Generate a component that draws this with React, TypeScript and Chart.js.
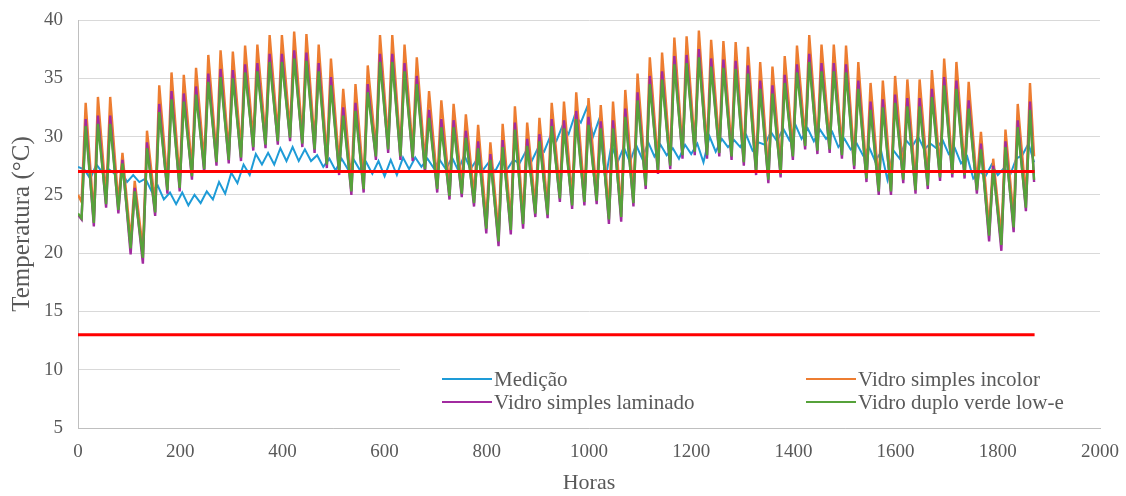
import { useEffect, useRef } from 'react';
import { Chart, registerables } from 'chart.js';

Chart.register(...registerables);

// ---- Data ----
const DAY_HOURS = 24;
const LAST_HOUR = 1871;
const SIM_LOW_HOUR = 7;   // hour of the day of the daily minimum (simulations)
const SIM_HIGH_HOUR = 15; // hour of the day of the daily maximum (simulations)
const MEAS_LOW_HOUR = 0;  // measured series daily minimum
const MEAS_HIGH_HOUR = 12; // measured series daily maximum

const xTicks = [0, 200, 400, 600, 800, 1000, 1200, 1400, 1600, 1800, 2000];
const yTicks = [5, 10, 15, 20, 25, 30, 35, 40];
const limitLines = [27, 13];

const labels = ['Medição', 'Vidro simples incolor', 'Vidro simples laminado', 'Vidro duplo verde low-e'];

// Medição (measured)
const medLow = [27.4, 26.4, 26.9, 26.8, 26.1, 26.1, 25.3, 24.6, 24.2, 24.1,
  24.3, 24.6, 25.1, 26.0, 26.7, 27.6, 27.6, 27.9, 27.9, 27.9,
  27.4, 27.1, 27.2, 27.1, 26.8, 26.6, 26.7, 27.2, 27.4, 27.3,
  27.2, 27.1, 27.2, 27.1, 27.0, 27.2, 27.7, 27.9, 28.7, 29.6,
  30.2, 31.2, 30.0, 26.3, 27.8, 27.8, 28.1, 28.3, 28.4, 28.1,
  28.5, 27.8, 28.7, 29.1, 29.1, 28.8, 29.3, 29.6, 29.7, 29.8,
  29.6, 29.8, 29.1, 28.9, 28.4, 27.9, 26.3, 28.1, 29.1, 28.9,
  29.0, 28.5, 27.7, 26.4, 26.6, 26.7, 26.7, 28.4];
const medHigh = [27.2, 27.6, 27.2, 27.1, 26.7, 26.4, 25.8, 25.2, 25.2, 25.0,
  25.3, 26.1, 26.9, 27.6, 28.5, 28.6, 29.0, 29.1, 28.9, 28.4,
  28.1, 28.1, 28.0, 27.8, 27.9, 28.0, 28.2, 28.2, 28.1, 28.0,
  28.2, 28.4, 28.0, 27.8, 28.0, 28.0, 28.7, 29.0, 30.0, 30.9,
  31.8, 32.5, 31.5, 29.3, 29.1, 29.3, 29.5, 29.3, 29.0, 29.3,
  29.4, 30.0, 29.8, 29.7, 30.1, 29.5, 30.4, 30.7, 31.0, 30.7,
  30.6, 30.4, 29.8, 29.4, 29.1, 28.7, 28.8, 29.7, 30.0, 29.4,
  29.7, 29.0, 28.3, 27.0, 27.6, 27.3, 28.1, 29.4];
const medEnd = 27.8;

// Vidro simples incolor
const incolorStart = 25.0;
const incolorLow = [24.4, 23.2, 24.8, 24.3, 21.1, 20.3, 24.1, 26.0, 26.2, 27.2,
  27.8, 28.4, 28.6, 28.8, 29.7, 29.9, 30.2, 30.5, 30.0, 29.5,
  28.2, 27.6, 25.9, 26.1, 28.9, 29.5, 28.9, 28.8, 27.8, 26.1,
  25.5, 25.7, 24.9, 22.8, 21.7, 22.7, 23.1, 24.0, 23.9, 25.3,
  24.7, 25.0, 25.1, 23.5, 23.7, 24.9, 26.4, 27.7, 28.1, 29.0,
  29.3, 29.0, 29.2, 28.9, 28.4, 27.6, 26.9, 27.4, 28.9, 29.8,
  29.4, 29.5, 29.0, 28.1, 27.0, 25.9, 25.9, 26.9, 26.0, 26.4,
  27.1, 27.4, 27.3, 26.0, 22.2, 21.4, 23.0, 24.8];
const incolorHigh = [32.9, 33.4, 33.4, 28.6, 26.2, 30.5, 34.4, 35.5, 35.3, 35.9,
  37.0, 37.4, 37.3, 37.8, 37.9, 38.7, 38.7, 39.0, 38.8, 37.9,
  36.7, 34.1, 34.5, 36.1, 38.7, 38.7, 37.9, 36.8, 33.9, 33.1,
  32.8, 31.9, 31.0, 29.5, 31.1, 32.6, 31.2, 31.6, 32.9, 33.0,
  33.8, 33.3, 32.7, 33.0, 34.0, 35.4, 36.8, 37.2, 38.5, 38.6,
  39.1, 38.3, 38.2, 38.1, 37.7, 36.4, 36.0, 36.9, 37.8, 38.7,
  37.9, 37.9, 37.8, 36.4, 34.6, 34.8, 35.2, 34.9, 34.9, 35.7,
  36.7, 36.4, 34.7, 30.4, 28.1, 30.6, 32.8, 34.6];
const incolorEnd = 28.3;

// Vidro simples laminado
const laminadoStart = 23.3;
const laminadoLow = [22.9, 22.3, 23.9, 23.4, 19.9, 19.1, 23.2, 25.1, 25.3, 26.3,
  26.9, 27.5, 27.7, 27.9, 28.8, 29.0, 29.3, 29.6, 29.1, 28.6,
  27.3, 26.7, 25.0, 25.2, 28.0, 28.6, 28.0, 27.9, 26.9, 25.2,
  24.6, 24.8, 24.0, 21.7, 20.6, 21.6, 22.1, 23.1, 23.0, 24.4,
  23.8, 24.1, 24.2, 22.5, 22.7, 24.0, 25.5, 26.8, 27.2, 28.1,
  28.4, 28.1, 28.3, 28.0, 27.5, 26.7, 26.0, 26.5, 28.0, 28.9,
  28.5, 28.6, 28.1, 27.2, 26.1, 25.0, 25.0, 26.0, 25.1, 25.5,
  26.2, 26.5, 26.4, 25.1, 21.0, 20.2, 21.8, 23.6];
const laminadoHigh = [31.5, 31.8, 31.8, 28.0, 25.6, 29.5, 32.8, 33.9, 33.7, 34.3,
  35.4, 35.8, 35.7, 36.2, 36.3, 37.1, 37.1, 37.4, 37.2, 36.3,
  35.1, 32.5, 32.9, 34.5, 37.1, 37.1, 36.3, 35.2, 32.3, 31.5,
  31.4, 30.5, 29.6, 28.5, 29.7, 31.2, 29.8, 30.2, 31.5, 31.4,
  32.2, 31.7, 31.3, 31.4, 32.4, 33.8, 35.2, 35.6, 36.9, 37.0,
  37.5, 36.7, 36.6, 36.5, 36.1, 34.8, 34.4, 35.3, 36.2, 37.1,
  36.3, 36.3, 36.2, 34.8, 33.0, 33.2, 33.6, 33.3, 33.3, 34.1,
  35.1, 34.8, 33.1, 29.4, 27.5, 29.6, 31.4, 33.0];
const laminadoEnd = 26.1;

// Vidro duplo verde low-e
const lowEStart = 23.4;
const lowELow = [23.0, 22.6, 24.2, 23.7, 20.4, 19.6, 23.5, 25.4, 25.6, 26.6,
  27.2, 27.8, 28.0, 28.2, 29.1, 29.3, 29.6, 29.9, 29.4, 28.9,
  27.6, 27.0, 25.3, 25.5, 28.3, 28.9, 28.3, 28.2, 27.2, 25.5,
  24.9, 25.1, 24.3, 22.1, 21.0, 22.0, 22.5, 23.4, 23.3, 24.7,
  24.1, 24.4, 24.5, 22.9, 23.1, 24.3, 25.8, 27.1, 27.5, 28.4,
  28.7, 28.4, 28.6, 28.3, 27.8, 27.0, 26.3, 26.8, 28.3, 29.2,
  28.8, 28.9, 28.4, 27.5, 26.4, 25.3, 25.3, 26.3, 25.4, 25.8,
  26.5, 26.8, 26.7, 25.4, 21.5, 20.7, 22.2, 23.9];
const lowEHigh = [30.9, 31.1, 31.1, 27.7, 25.3, 29.0, 32.1, 33.2, 33.0, 33.6,
  34.7, 35.1, 35.0, 35.5, 35.6, 36.4, 36.4, 36.7, 36.5, 35.6,
  34.4, 31.8, 32.2, 33.8, 36.4, 36.4, 35.6, 34.5, 31.6, 30.8,
  30.8, 29.9, 29.0, 28.0, 29.1, 30.6, 29.2, 29.6, 30.9, 30.7,
  31.5, 31.0, 30.7, 30.7, 31.7, 33.1, 34.5, 34.9, 36.2, 36.3,
  36.8, 36.0, 35.9, 35.8, 35.4, 34.1, 33.7, 34.6, 35.5, 36.4,
  35.6, 35.6, 35.5, 34.1, 32.3, 32.5, 32.9, 32.6, 32.6, 33.4,
  34.4, 34.1, 32.4, 28.9, 27.2, 29.1, 30.8, 32.3];
const lowEEnd = 26.3;

// ---- Styles ----
const COLORS = ['#1E9BD7', '#ED7D31', '#A22BA0', '#56A23A'];
const RED = '#FF0000';
const FONT = "'Liberation Serif', 'Times New Roman', serif";
const TEXT = '#595959';

type Pt = { x: number; y: number };

function buildSeries(start: number | null, lows: number[], highs: number[], end: number, lowHour: number, highHour: number): Pt[] {
  const pts: Pt[] = [];
  if (start !== null) pts.push({ x: 0, y: start });
  lows.forEach((v, k) => {
    pts.push({ x: k * DAY_HOURS + lowHour, y: v });
    pts.push({ x: k * DAY_HOURS + highHour, y: highs[k] });
  });
  pts.push({ x: LAST_HOUR, y: end });
  return pts;
}

const legendPlugin = {
  id: 'insideLegend',
  afterDraw(chart: any) {
    const { ctx } = chart;
    ctx.save();
    ctx.fillStyle = '#ffffff';
    ctx.fillRect(400, 359, 710, 60);
    ctx.font = `21px ${FONT}`;
    ctx.textBaseline = 'middle';
    ctx.textAlign = 'left';
    labels.forEach((label, i) => {
      const col = i % 2;
      const row = Math.floor(i / 2);
      const x = col === 0 ? 442 : 806;
      const y = row === 0 ? 379 : 402;
      ctx.strokeStyle = COLORS[i];
      ctx.lineWidth = 2;
      ctx.beginPath();
      ctx.moveTo(x, y);
      ctx.lineTo(x + 50, y);
      ctx.stroke();
      ctx.fillStyle = TEXT;
      ctx.fillText(label, x + 52, y + 1);
    });
    ctx.restore();
  },
};

export default function App() {
  const ref = useRef<HTMLCanvasElement | null>(null);

  useEffect(() => {
    if (!ref.current) return;
    Chart.defaults.font.family = FONT;
    const line = (label: string, data: Pt[], color: string, order: number, width = 2.4) => ({
      label,
      data,
      borderColor: color,
      backgroundColor: color,
      borderWidth: width,
      pointRadius: 0,
      tension: 0,
      fill: false,
      order,
    });
    const datasets = [
      line(labels[0], buildSeries(null, medLow, medHigh, medEnd, MEAS_LOW_HOUR, MEAS_HIGH_HOUR), COLORS[0], 5, 2),
      line(labels[1], buildSeries(incolorStart, incolorLow, incolorHigh, incolorEnd, SIM_LOW_HOUR, SIM_HIGH_HOUR), COLORS[1], 4),
      line(labels[2], buildSeries(laminadoStart, laminadoLow, laminadoHigh, laminadoEnd, SIM_LOW_HOUR, SIM_HIGH_HOUR), COLORS[2], 3),
      line(labels[3], buildSeries(lowEStart, lowELow, lowEHigh, lowEEnd, SIM_LOW_HOUR, SIM_HIGH_HOUR), COLORS[3], 2),
      ...limitLines.map((v) => line('limite', [{ x: 0, y: v }, { x: LAST_HOUR + 1, y: v }], RED, 1, 3)),
    ];

    const chart = new Chart(ref.current, {
      type: 'line',
      data: { datasets },
      options: {
        animation: false,
        responsive: false,
        events: [],
        layout: { padding: { top: 20, right: 26, left: 0, bottom: 0 } },
        plugins: { legend: { display: false }, tooltip: { enabled: false } },
        scales: {
          x: {
            type: 'linear',
            min: xTicks[0],
            max: xTicks[xTicks.length - 1],
            afterFit: (s: any) => { s.height = 68; s.paddingLeft = 0; s.paddingRight = 0; },
            afterBuildTicks: (s: any) => { s.ticks = xTicks.map((v) => ({ value: v })); },
            grid: { display: false, drawTicks: false },
            border: { display: true, color: '#BFBFBF', width: 1 },
            ticks: { color: TEXT, font: { size: 19, family: FONT }, padding: 13, maxRotation: 0, autoSkip: false, callback: (v: any) => String(v) },
            title: { display: true, text: 'Horas', color: TEXT, font: { size: 22, family: FONT }, padding: { top: 0, bottom: 0 } },
          },
          y: {
            type: 'linear',
            min: yTicks[0],
            max: yTicks[yTicks.length - 1],
            afterFit: (s: any) => { s.width = 78; s.paddingTop = 0; s.paddingBottom = 0; },
            afterBuildTicks: (s: any) => { s.ticks = yTicks.map((v) => ({ value: v })); },
            grid: { color: '#D9D9D9', lineWidth: 1, drawTicks: false },
            border: { display: true, color: '#BFBFBF', width: 1 },
            ticks: { color: TEXT, font: { size: 19, family: FONT }, padding: 15, callback: (v: any) => String(v) },
            title: { display: true, text: 'Temperatura (°C)', color: TEXT, font: { size: 25, family: FONT }, padding: { top: 7, bottom: 0 } },
          },
        },
      },
      plugins: [legendPlugin],
    } as any);
    return () => chart.destroy();
  }, []);

  return (
    <div style={{ position: 'absolute', left: 0, top: 0, width: 1126, height: 496, background: '#ffffff' }}>
      <canvas ref={ref} width={1126} height={496} style={{ display: 'block', width: 1126, height: 496 }} />
    </div>
  );
}
